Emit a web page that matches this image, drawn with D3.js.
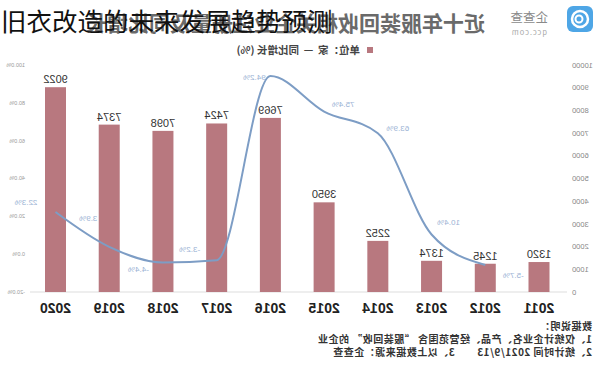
<!DOCTYPE html>
<html>
<head>
<meta charset="utf-8">
<script src="https://cdn.jsdelivr.net/npm/d3@7/dist/d3.min.js"></script>
<style>
  body { margin: 0; background: #fff; }
  svg { display: block; font-family: "Noto Sans CJK SC", "Liberation Sans", sans-serif; }
  text { white-space: pre; }
</style>
</head>
<body>
<div id="chart"></div>
<script>
// Data
const years = ["2011", "2012", "2013", "2014", "2015", "2016", "2017", "2018", "2019", "2020"];
const counts = [1320, 1245, 1374, 2252, 3950, 7669, 7424, 7098, 7374, 9022];
const growth = [null, -5.7, 10.4, 63.9, 75.4, 94.2, -3.2, -4.4, 3.9, 22.3];
const countTicks = [0, 1000, 2000, 3000, 4000, 5000, 6000, 7000, 8000, 9000, 10000];
const pctTicks = [-20, 0, 20, 40, 60, 80, 100];
const notes = [
  "数据说明：",
  "1、仅统计企业名、产品、经营范围含 “服装回收” 的企业",
  "2、统计时间 2021/9/13        3、以上数据来源：企查查"
];

// label nudges for the growth labels [dx, dy]
const labelNudge = [null, [-28, 10], [-17, -12], [-20, -5], [-19, -7], [16, 1], [27, -11], [24.5, 7], [21, -29], [29.5, -10]];

const width = 600, height = 369;
const barColor = "#b8787f", lineColor = "#7d9dc5";

const svg = d3.select("#chart").append("svg")
  .attr("width", width)
  .attr("height", height);

// the whole picture is mirrored left-right
const g = svg.append("g")
  .attr("transform", `translate(${width},0) scale(-1,1)`);

const x = d3.scalePoint().domain(years).range([61, 544.5]);
const yCount = d3.scaleLinear().domain([0, 10000]).range([292, 65]);
const yPct = d3.scaleLinear().domain([-20, 100]).range([292, 65]);

// header: logo + title
g.append("rect")
  .attr("x", 7).attr("y", 6).attr("width", 26).attr("height", 26).attr("rx", 6)
  .attr("fill", "#4ea6e6");
g.append("circle").attr("cx", 20).attr("cy", 19).attr("r", 8)
  .attr("fill", "none").attr("stroke", "#fff").attr("stroke-width", 2.5);
g.append("circle").attr("cx", 21).attr("cy", 19).attr("r", 3.5)
  .attr("fill", "none").attr("stroke", "#fff").attr("stroke-width", 2);
g.append("text").attr("x", 52).attr("y", 22)
  .attr("font-size", 12.5).attr("fill", "#8a8a8a").text("企查查");
g.append("text").attr("x", 53).attr("y", 35)
  .attr("font-size", 7.5).attr("fill", "#aaa").attr("letter-spacing", 1).text("qcc.com");

g.append("text").attr("x", 115).attr("y", 31)
  .attr("font-size", 21).attr("font-weight", "bold").attr("fill", "#6a6a6a")
  .text("近十年服装回收相关企业注册量及同比增长");

// legend
g.append("rect").attr("x", 227).attr("y", 47).attr("width", 6).attr("height", 6).attr("fill", barColor);
g.append("text").attr("x", 240).attr("y", 54)
  .attr("font-size", 10.5).attr("font-weight", "bold").attr("fill", "#444")
  .text("单位：家  —  同比增长 (%)");

// left axis (counts)
g.selectAll(".countTick")
  .data(countTicks)
  .enter().append("text")
  .attr("class", "countTick")
  .attr("x", 28)
  .attr("y", d => yCount(d))
  .attr("dy", "0.35em")
  .attr("text-anchor", "end")
  .attr("font-family", "Liberation Sans, sans-serif")
  .attr("font-size", 7.5)
  .attr("fill", "#888")
  .text(d => d);

// right axis (percent)
g.selectAll(".pctTick")
  .data(pctTicks)
  .enter().append("text")
  .attr("class", "pctTick")
  .attr("x", 575)
  .attr("y", d => yPct(d))
  .attr("dy", "0.35em")
  .attr("font-family", "Liberation Sans, sans-serif")
  .attr("font-size", 5.5)
  .attr("fill", "#999")
  .text(d => d.toFixed(1) + "%");

// baseline
g.append("line")
  .attr("x1", 33).attr("x2", 570)
  .attr("y1", yCount(0)).attr("y2", yCount(0))
  .attr("stroke", "#ddd");

// bars
const barW = 21;
g.selectAll(".bar")
  .data(counts)
  .enter().append("rect")
  .attr("class", "bar")
  .attr("x", (d, i) => x(years[i]) - barW / 2)
  .attr("y", d => yCount(d))
  .attr("width", barW)
  .attr("height", d => yCount(0) - yCount(d))
  .attr("fill", barColor);

g.selectAll(".barLabel")
  .data(counts)
  .enter().append("text")
  .attr("class", "barLabel")
  .attr("x", (d, i) => x(years[i]))
  .attr("y", d => yCount(d) - 4)
  .attr("text-anchor", "middle")
  .attr("font-family", "Liberation Sans, sans-serif")
  .attr("font-size", 11)
  .attr("fill", "#333")
  .text(d => d);

// year labels
g.selectAll(".year")
  .data(years)
  .enter().append("text")
  .attr("class", "year")
  .attr("x", d => x(d))
  .attr("y", 308)
  .attr("dy", "0.35em")
  .attr("text-anchor", "middle")
  .attr("font-family", "Liberation Sans, sans-serif")
  .attr("font-size", 14)
  .attr("font-weight", "bold")
  .attr("fill", "#222")
  .text(d => d);

// growth line
const line = d3.line()
  .defined(d => d != null)
  .x((d, i) => x(years[i]))
  .y(d => yPct(d))
  .curve(d3.curveMonotoneX);

g.append("path")
  .datum(growth)
  .attr("fill", "none")
  .attr("stroke", lineColor)
  .attr("stroke-width", 2)
  .attr("d", line);

g.selectAll(".pctLabel")
  .data(growth.map((v, i) => ({ v, i })).filter(d => d.v != null))
  .enter().append("text")
  .attr("class", "pctLabel")
  .attr("x", d => x(years[d.i]) + labelNudge[d.i][0])
  .attr("y", d => yPct(d.v) + labelNudge[d.i][1])
  .attr("dy", "0.35em")
  .attr("text-anchor", "middle")
  .attr("font-family", "Liberation Sans, sans-serif")
  .attr("font-size", 8)
  .attr("fill", "#9ab2d4")
  .text(d => d.v.toFixed(1) + "%");

// notes
g.selectAll(".note")
  .data(notes)
  .enter().append("text")
  .attr("class", "note")
  .attr("x", 8)
  .attr("y", (d, i) => 330 + i * 12.75)
  .attr("font-size", 10)
  .attr("letter-spacing", 0.5)
  .attr("font-weight", "bold")
  .attr("fill", "#333")
  .text(d => d);

// overlay title (not mirrored)
svg.append("text")
  .attr("x", 1).attr("y", 31)
  .attr("font-size", 25.5)
  .attr("fill", "#111")
  .text("旧衣改造的未来发展趋势预测");
</script>
</body>
</html>
